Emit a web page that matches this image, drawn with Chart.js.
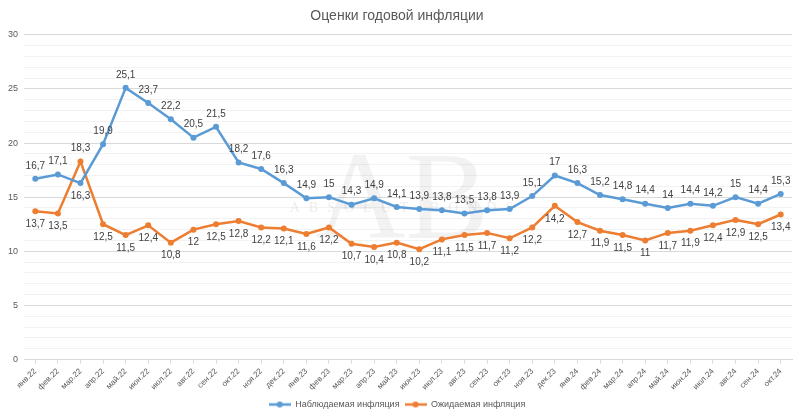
<!DOCTYPE html>
<html>
<head>
<meta charset="utf-8">
<script src="https://cdn.jsdelivr.net/npm/chart.js@4/dist/chart.umd.min.js"></script>
<style>
  html, body { margin: 0; padding: 0; background: #fff; }
  #wrap { width: 800px; height: 419px; }
</style>
</head>
<body>
<div id="wrap"><canvas id="chart"></canvas></div>
<script>
const months = [
    'янв.22','фев.22','мар.22','апр.22','май.22','июн.22','июл.22','авг.22','сен.22','окт.22','ноя.22','дек.22',
    'янв.23','фев.23','мар.23','апр.23','май.23','июн.23','июл.23','авг.23','сен.23','окт.23','ноя.23','дек.23',
    'янв.24','фев.24','мар.24','апр.24','май.24','июн.24','июл.24','авг.24','сен.24','окт.24'
];
const observed = [16.7, 17.1, 16.3, 19.9, 25.1, 23.7, 22.2, 20.5, 21.5, 18.2, 17.6, 16.3,
    14.9, 15, 14.3, 14.9, 14.1, 13.9, 13.8, 13.5, 13.8, 13.9, 15.1, 17,
    16.3, 15.2, 14.8, 14.4, 14, 14.4, 14.2, 15, 14.4, 15.3];
const expected = [13.7, 13.5, 18.3, 12.5, 11.5, 12.4, 10.8, 12, 12.5, 12.8, 12.2, 12.1,
    11.6, 12.2, 10.7, 10.4, 10.8, 10.2, 11.1, 11.5, 11.7, 11.2, 12.2, 14.2,
    12.7, 11.9, 11.5, 11, 11.7, 11.9, 12.4, 12.9, 12.5, 13.4];
const yTicks = [0, 5, 10, 15, 20, 25, 30];

const BLUE = '#5b9bd5';
const ORANGE = '#ed7d31';
const FONT = '"Liberation Sans", Arial, sans-serif';

function legendIcon(color){
    const c = document.createElement('canvas');
    c.width = 22; c.height = 8;
    const ctx = c.getContext('2d');
    ctx.strokeStyle = color;
    ctx.lineWidth = 2.5;
    ctx.beginPath(); ctx.moveTo(0, 4); ctx.lineTo(22, 4); ctx.stroke();
    ctx.fillStyle = color;
    ctx.beginPath(); ctx.arc(11, 4, 3, 0, Math.PI * 2); ctx.fill();
    return c;
}

// watermark behind the lines
const watermark = {
    id: 'watermark',
    beforeDatasetsDraw(chart){
        const ctx = chart.ctx;
        ctx.save();
        ctx.fillStyle = 'rgba(0,0,0,0.05)';
        ctx.textAlign = 'center';
        ctx.textBaseline = 'middle';
        ctx.font = '125px "Liberation Serif"';
        ctx.fillText('AB', 402, 205);
        ctx.fillStyle = 'rgba(0,0,0,0.08)';
        ctx.font = '14px "Liberation Serif"';
        ctx.letterSpacing = '9px';
        ctx.fillText('ABSOLUT BONDS', 406, 208);
        ctx.restore();
    }
};

// value labels, Excel style (comma decimals)
const valueLabels = {
    id: 'valueLabels',
    afterDatasetsDraw(chart){
        const ctx = chart.ctx;
        ctx.save();
        ctx.font = '10px ' + FONT;
        ctx.fillStyle = '#404040';
        ctx.textAlign = 'center';
        ctx.textBaseline = 'middle';
        chart.data.datasets.forEach((ds, di) => {
            const meta = chart.getDatasetMeta(di);
            const other = chart.data.datasets[1 - di].data;
            meta.data.forEach((pt, i) => {
                const v = ds.data[i];
                // the higher line gets its label above, the lower one below
                const up = v >= other[i];
                const y = up ? pt.y - 13 : pt.y + 13;
                ctx.fillText(String(v).replace('.', ','), pt.x, y);
            });
        });
        ctx.restore();
    }
};

new Chart(document.getElementById('chart'), {
    type: 'line',
    data: {
        labels: months,
        datasets: [{
            label: 'Наблюдаемая инфляция',
            data: observed,
            borderColor: BLUE,
            backgroundColor: BLUE,
            borderWidth: 2.5,
            pointRadius: 3,
            pointBorderWidth: 0,
            tension: 0
        }, {
            label: 'Ожидаемая инфляция',
            data: expected,
            borderColor: ORANGE,
            backgroundColor: ORANGE,
            borderWidth: 2.5,
            pointRadius: 3,
            pointBorderWidth: 0,
            tension: 0
        }]
    },
    options: {
        responsive: true,
        maintainAspectRatio: false,
        animation: false,
        layout: { padding: { left: 2, right: 8, top: 4, bottom: 0 } },
        plugins: {
            title: {
                display: true,
                text: 'Оценки годовой инфляции',
                color: '#595959',
                font: { size: 14, family: FONT, weight: 'normal' },
                padding: { top: 4, bottom: 10 }
            },
            legend: {
                position: 'bottom',
                labels: {
                    usePointStyle: true,
                    pointStyleWidth: 22,
                    color: '#595959',
                    font: { size: 9, family: FONT },
                    padding: 5,
                    generateLabels(chart){
                        const items = Chart.defaults.plugins.legend.labels.generateLabels(chart);
                        items.forEach(it => {
                            it.pointStyle = legendIcon(chart.data.datasets[it.datasetIndex].borderColor);
                        });
                        return items;
                    }
                }
            },
            tooltip: { enabled: false }
        },
        scales: {
            x: {
                offset: true,
                border: { color: '#d9d9d9' },
                grid: { display: true, drawOnChartArea: false, tickLength: 4, color: '#d9d9d9' },
                ticks: {
                    color: '#595959',
                    font: { size: 8, family: FONT },
                    minRotation: 45,
                    maxRotation: 45,
                    autoSkip: false,
                    padding: 3
                }
            },
            y: {
                min: yTicks[0],
                max: yTicks[yTicks.length - 1],
                border: { display: false },
                grid: {
                    drawTicks: false,
                    color: ctx => (ctx.tick && ctx.tick.value % 5 == 0) ? '#d9d9d9' : '#f2f2f2'
                },
                ticks: {
                    stepSize: 1,
                    autoSkip: false,
                    padding: 6,
                    color: '#595959',
                    font: { size: 9, family: FONT },
                    callback: v => yTicks.includes(v) ? v : ''
                }
            }
        }
    },
    plugins: [watermark, valueLabels]
});
</script>
</body>
</html>
